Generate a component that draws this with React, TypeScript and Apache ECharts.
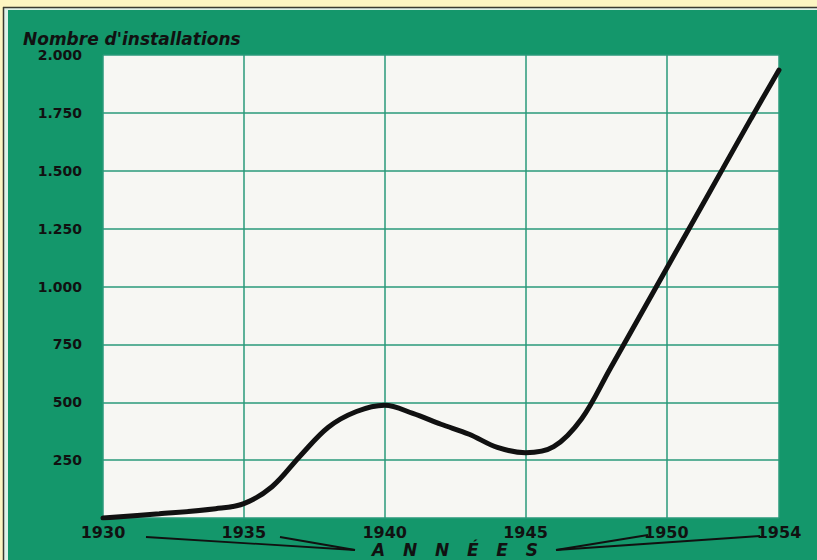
import React, { useEffect, useRef } from "react";
import * as echarts from "echarts";

const years = [1930, 1932, 1934, 1935, 1936, 1937, 1938, 1939, 1940, 1941, 1942, 1943, 1944, 1945, 1946, 1947, 1948, 1949, 1950, 1951, 1952, 1953, 1954];
const installations = [0, 18, 40, 62, 135, 268, 392, 460, 487, 452, 405, 362, 305, 282, 308, 430, 644, 860, 1076, 1292, 1508, 1724, 1935];
const xTickLabels = [1930, 1935, 1940, 1945, 1950, 1954];
const yTicks = [250, 500, 750, 1000, 1250, 1500, 1750, 2000];
const titleText = "Nombre d'installations";
const axisNameText = "A   N   N   É   E   S";

const GREEN = "#14976b";
const YELLOW = "#fdf5c2";
const GRID = "#2a9a7a";
const INK = "#111111";

function fmtY(v: number): string {
  if (v === 0) return "";
  if (v >= 1000) {
    const th = Math.floor(v / 1000);
    const rest = String(v % 1000).padStart(3, "0");
    return th + "." + rest;
  }
  return String(v);
}

export default function App() {
  const ref = useRef<HTMLDivElement>(null);
  useEffect(() => {
    document.body.style.margin = "0";
    const chart = echarts.init(ref.current!, null, { renderer: "svg" });
    const data = years.map((y, i) => [y, installations[i]]);
    chart.setOption({
      animation: false,
      backgroundColor: GREEN,
      title: {
        text: titleText,
        left: 18,
        top: 25,
        textStyle: {
          fontFamily: "DejaVu Sans",
          fontStyle: "italic",
          fontWeight: 900,
          fontSize: 17,
          color: INK,
        },
      },
      grid: {
        left: 103,
        right: 38,
        top: 55,
        bottom: 42,
        show: true,
        backgroundColor: "#f7f7f3",
        borderWidth: 0,
      },
      xAxis: {
        type: "value",
        min: 1930,
        max: 1954,
        interval: 5,
        axisLine: { show: false },
        axisTick: { show: false },
        splitLine: { show: true, lineStyle: { color: GRID, width: 1.5 } },
        axisLabel: {
          showMinLabel: true,
          showMaxLabel: true,
          margin: 7,
          fontFamily: "DejaVu Sans",
          fontWeight: 900,
          fontSize: 16,
          lineHeight: 15,
          color: INK,
          formatter: (v: number) => (xTickLabels.indexOf(v) >= 0 ? String(v) : ""),
        },
      },
      yAxis: {
        type: "value",
        min: 0,
        max: 2000,
        interval: 250,
        axisLine: { show: false },
        axisTick: { show: false },
        splitLine: { show: true, lineStyle: { color: GRID, width: 1.5 } },
        axisLabel: {
          margin: 21,
          fontFamily: "DejaVu Sans",
          fontWeight: 900,
          fontSize: 14,
          color: INK,
          formatter: (v: number) => (yTicks.indexOf(v) >= 0 ? fmtY(v) : ""),
        },
      },
      series: [
        {
          type: "line",
          data,
          smooth: 0.35,
          symbol: "none",
          lineStyle: { color: INK, width: 5, cap: "round" },
          z: 5,
        },
      ],
      graphic: [
        { type: "rect", z: 100, shape: { x: 0, y: 0, width: 817, height: 7 }, style: { fill: YELLOW } },
        { type: "rect", z: 100, shape: { x: 0, y: 0, width: 3, height: 560 }, style: { fill: YELLOW } },
        { type: "rect", z: 100, shape: { x: 4, y: 8, width: 813, height: 2 }, style: { fill: "#dff1e8" } },
        { type: "rect", z: 100, shape: { x: 4, y: 8, width: 4, height: 552 }, style: { fill: "#dff1e8" } },
        { type: "line", z: 101, shape: { x1: 3, y1: 7.5, x2: 817, y2: 7.5 }, style: { stroke: "#3a3a30", lineWidth: 1.5 } },
        { type: "line", z: 101, shape: { x1: 3.5, y1: 7, x2: 3.5, y2: 560 }, style: { stroke: "#3a3a30", lineWidth: 1.5 } },
        {
          type: "text",
          z: 50,
          style: {
            text: axisNameText,
            x: 455,
            y: 550,
            align: "center",
            verticalAlign: "middle",
            fontFamily: "DejaVu Sans",
            fontStyle: "italic",
            fontWeight: 900,
            fontSize: 17,
            lineHeight: 15,
            fill: INK,
          },
        },
        { type: "line", z: 50, shape: { x1: 146, y1: 537, x2: 355, y2: 550 }, style: { stroke: INK, lineWidth: 1.8 } },
        { type: "line", z: 50, shape: { x1: 280, y1: 537, x2: 355, y2: 550 }, style: { stroke: INK, lineWidth: 1.8 } },
        { type: "line", z: 50, shape: { x1: 556, y1: 550, x2: 648, y2: 535 }, style: { stroke: INK, lineWidth: 1.8 } },
        { type: "line", z: 50, shape: { x1: 556, y1: 550, x2: 760, y2: 536 }, style: { stroke: INK, lineWidth: 1.8 } },
      ],
    });
    return () => chart.dispose();
  }, []);
  return <div ref={ref} style={{ position: "absolute", left: 0, top: 0, width: 817, height: 560 }} />;
}
